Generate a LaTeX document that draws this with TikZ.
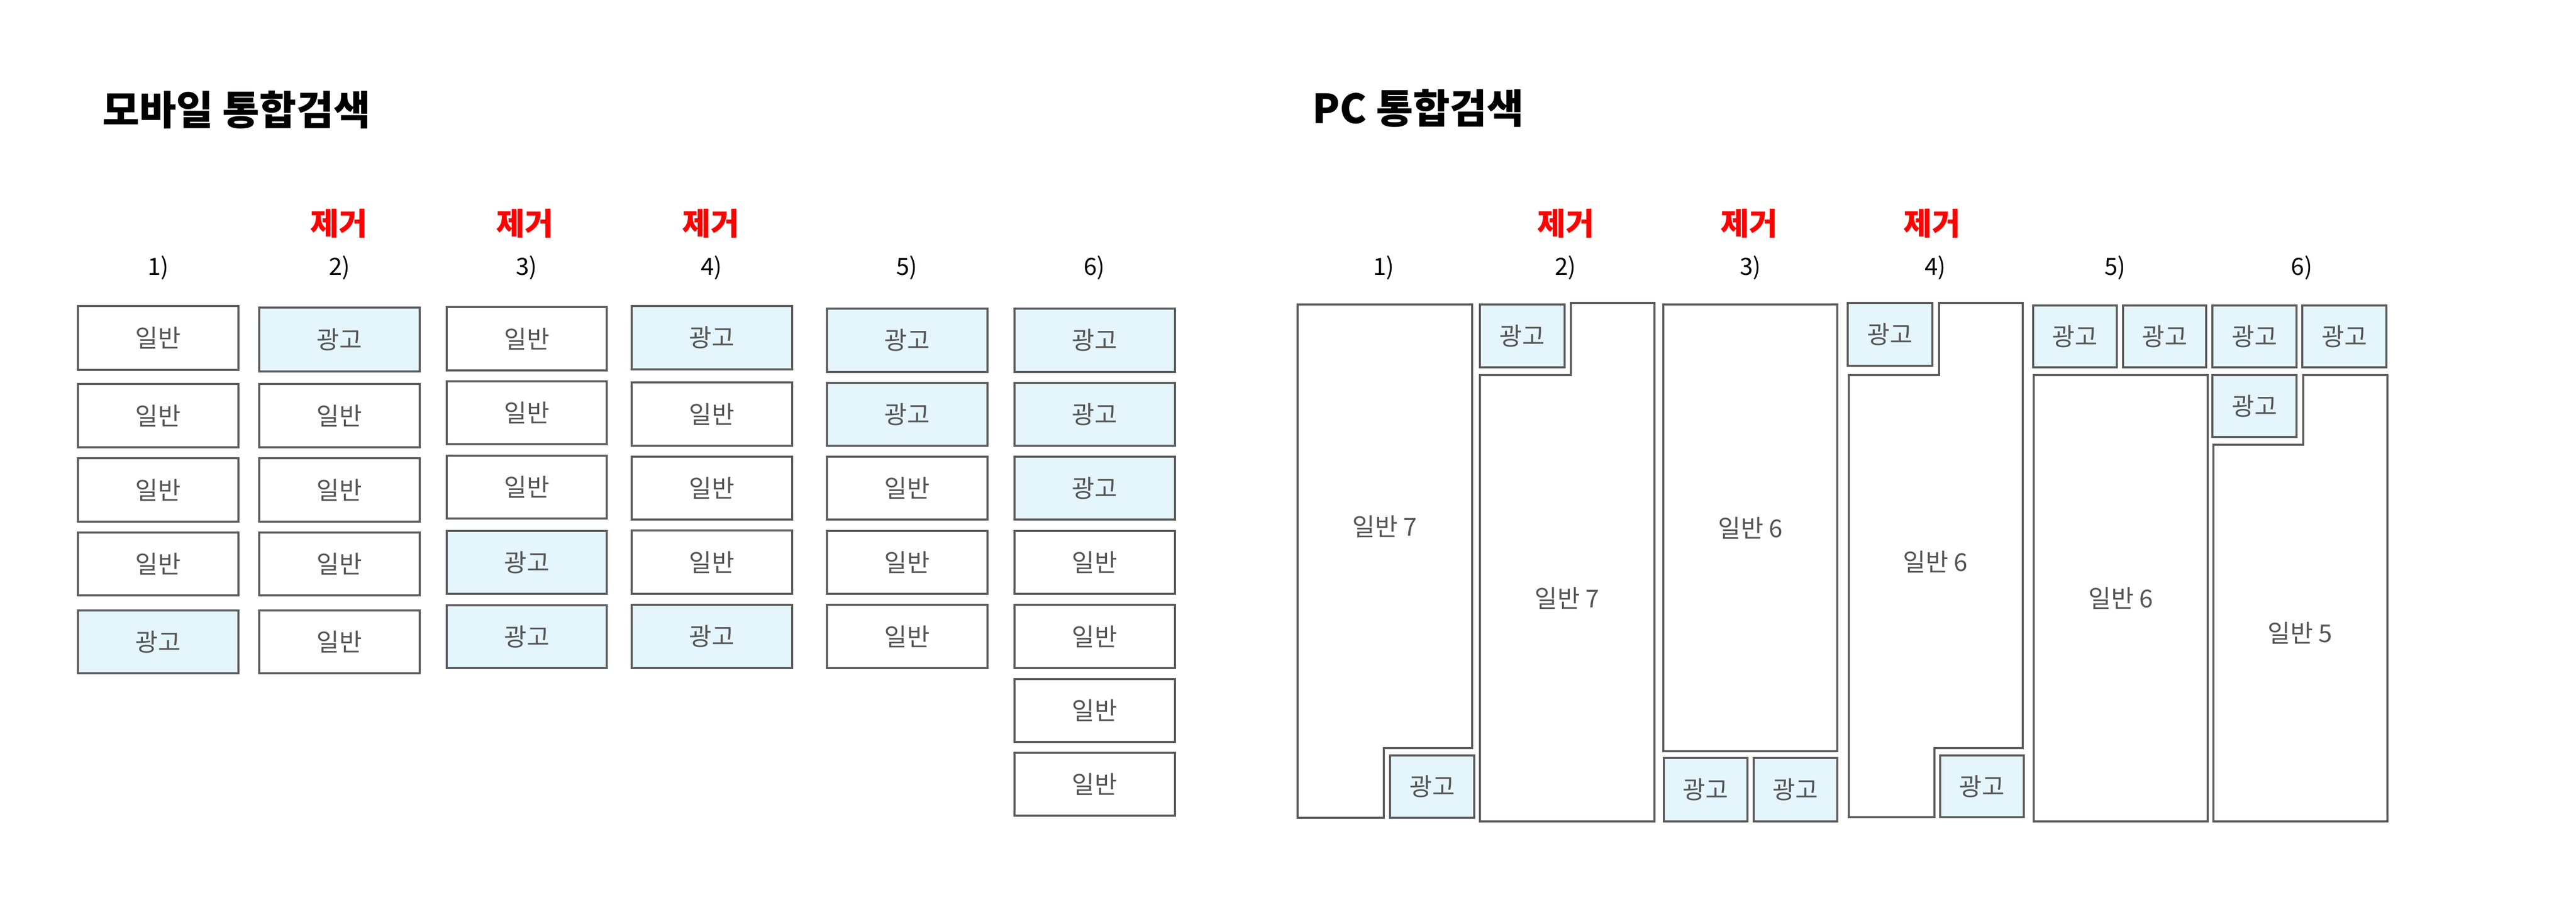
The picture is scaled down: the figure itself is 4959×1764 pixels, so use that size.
\documentclass[tikz,border=0pt]{standalone}
\usepackage{fontspec}
\setmainfont{Noto Sans CJK KR}
\definecolor{boxgray}{RGB}{92,92,92}
\definecolor{labgray}{RGB}{85,85,85}
\definecolor{adblue}{RGB}{228,245,252}
\definecolor{remred}{RGB}{255,0,0}
\newcommand\cell[7]{\node[#6, minimum width={(#4-#2)*0.1mm}, minimum height={(#5-#3)*0.1mm}] (#1) at ({(#2+#4)/2},{(#3+#5)/2}) {#7};}
\begin{document}
\begin{tikzpicture}[x=0.1mm,y=-0.1mm,
  gen/.style={draw=boxgray, line width=1.3pt, fill=white, inner sep=0pt, text=labgray, font=\fontsize{13.5}{15}\selectfont},
  ad/.style={gen, fill=adblue},
  shapeline/.style={draw=boxgray, line width=1.3pt, fill=white, line join=miter},
  lab/.style={text=labgray, inner sep=0pt, font=\fontsize{13.5}{15}\selectfont},
  head/.style={text=black, inner sep=0pt, font=\fontsize{13}{15}\selectfont},
  rem/.style={text=remred, inner sep=0pt, font=\bfseries\fontsize{17}{20}\selectfont},
  ttl/.style={text=black, anchor=west, inner sep=0pt, font=\bfseries\fontsize{22}{26}\selectfont}]
\useasboundingbox[fill=white] (0,0) rectangle (4959,1764);

% titles
\node[ttl] (mtitle) at (197,211) {모바일 통합검색};
\node[ttl] (ptitle) at (2526,208) {PC 통합검색};

% mobile headers
\node[head] (mh1) at (305,515) {1)};
\node[head] (mh2) at (654,515) {2)};
\node[head] (mh3) at (1014,515) {3)};
\node[head] (mh4) at (1370,515) {4)};
\node[head] (mh5) at (1746,515) {5)};
\node[head] (mh6) at (2107,515) {6)};
\node[rem] (mr2) at (652,430) {제거};
\node[rem] (mr3) at (1010,430) {제거};
\node[rem] (mr4) at (1368,430) {제거};

% mobile col 1
\cell{m1a}{150}{589}{459}{712}{gen}{일반}
\cell{m1b}{150}{739}{459}{861}{gen}{일반}
\cell{m1c}{150}{882}{459}{1004}{gen}{일반}
\cell{m1d}{150}{1025}{459}{1146}{gen}{일반}
\cell{m1e}{150}{1175}{459}{1296}{ad}{광고}
% mobile col 2
\cell{m2a}{499}{592}{808}{715}{ad}{광고}
\cell{m2b}{499}{739}{808}{861}{gen}{일반}
\cell{m2c}{499}{882}{808}{1004}{gen}{일반}
\cell{m2d}{499}{1025}{808}{1146}{gen}{일반}
\cell{m2e}{499}{1175}{808}{1296}{gen}{일반}
% mobile col 3
\cell{m3a}{860}{591}{1168}{713}{gen}{일반}
\cell{m3b}{860}{734}{1168}{855}{gen}{일반}
\cell{m3c}{860}{877}{1168}{998}{gen}{일반}
\cell{m3d}{860}{1022}{1168}{1143}{ad}{광고}
\cell{m3e}{860}{1165}{1168}{1286}{ad}{광고}
% mobile col 4
\cell{m4a}{1216}{589}{1525}{711}{ad}{광고}
\cell{m4b}{1216}{736}{1525}{858}{gen}{일반}
\cell{m4c}{1216}{879}{1525}{1000}{gen}{일반}
\cell{m4d}{1216}{1021}{1525}{1143}{gen}{일반}
\cell{m4e}{1216}{1164}{1525}{1286}{ad}{광고}
% mobile col 5
\cell{m5a}{1592}{594}{1901}{716}{ad}{광고}
\cell{m5b}{1592}{737}{1901}{858}{ad}{광고}
\cell{m5c}{1592}{879}{1901}{1000}{gen}{일반}
\cell{m5d}{1592}{1022}{1901}{1143}{gen}{일반}
\cell{m5e}{1592}{1164}{1901}{1286}{gen}{일반}
% mobile col 6
\cell{m6a}{1953}{594}{2262}{716}{ad}{광고}
\cell{m6b}{1953}{737}{2262}{858}{ad}{광고}
\cell{m6c}{1953}{879}{2262}{1000}{ad}{광고}
\cell{m6d}{1953}{1022}{2262}{1143}{gen}{일반}
\cell{m6e}{1953}{1164}{2262}{1286}{gen}{일반}
\cell{m6f}{1953}{1307}{2262}{1428}{gen}{일반}
\cell{m6g}{1953}{1449}{2262}{1570}{gen}{일반}

% PC headers
\node[head] (ph1) at (2664,515) {1)};
\node[head] (ph2) at (3014,515) {2)};
\node[head] (ph3) at (3370,515) {3)};
\node[head] (ph4) at (3726,515) {4)};
\node[head] (ph5) at (4072,515) {5)};
\node[head] (ph6) at (4431,515) {6)};
\node[rem] (pr2) at (3014,430) {제거};
\node[rem] (pr3) at (3367,430) {제거};
\node[rem] (pr4) at (3719,430) {제거};

% PC col 1
\draw[shapeline] (2498,586) -- (2834,586) -- (2834,1440) -- (2664,1440) -- (2664,1574) -- (2498,1574) -- cycle;
\node[lab] (p1g) at (2666,1013) {일반 7};
\cell{p1a}{2676}{1454}{2838}{1574}{ad}{광고}
% PC col 2
\cell{p2a}{2849}{586}{3012}{707}{ad}{광고}
\draw[shapeline] (2849,722) -- (3024,722) -- (3024,583) -- (3185,583) -- (3185,1581) -- (2849,1581) -- cycle;
\node[lab] (p2g) at (3017,1151) {일반 7};
% PC col 3
\cell{p3g}{3202}{586}{3537}{1446}{gen}{일반 6}
\cell{p3a}{3203}{1459}{3364}{1581}{ad}{광고}
\cell{p3b}{3376}{1459}{3537}{1581}{ad}{광고}
% PC col 4
\cell{p4a}{3557}{583}{3720}{704}{ad}{광고}
\draw[shapeline] (3559,722) -- (3733,722) -- (3733,583) -- (3894,583) -- (3894,1440) -- (3724,1440) -- (3724,1573) -- (3559,1573) -- cycle;
\node[lab] (p4g) at (3726,1081) {일반 6};
\cell{p4b}{3735}{1454}{3896}{1573}{ad}{광고}
% PC col 5
\cell{p5a}{3914}{588}{4075}{707}{ad}{광고}
\cell{p5b}{4087}{588}{4247}{707}{ad}{광고}
\cell{p5g}{3915}{722}{4250}{1581}{gen}{일반 6}
% PC col 6
\cell{p6a}{4259}{588}{4421}{707}{ad}{광고}
\cell{p6b}{4432}{588}{4594}{707}{ad}{광고}
\cell{p6c}{4259}{722}{4421}{841}{ad}{광고}
\draw[shapeline] (4261,856) -- (4434,856) -- (4434,722) -- (4596,722) -- (4596,1581) -- (4261,1581) -- cycle;
\node[lab] (p6g) at (4428,1218) {일반 5};
\end{tikzpicture}
\end{document}
